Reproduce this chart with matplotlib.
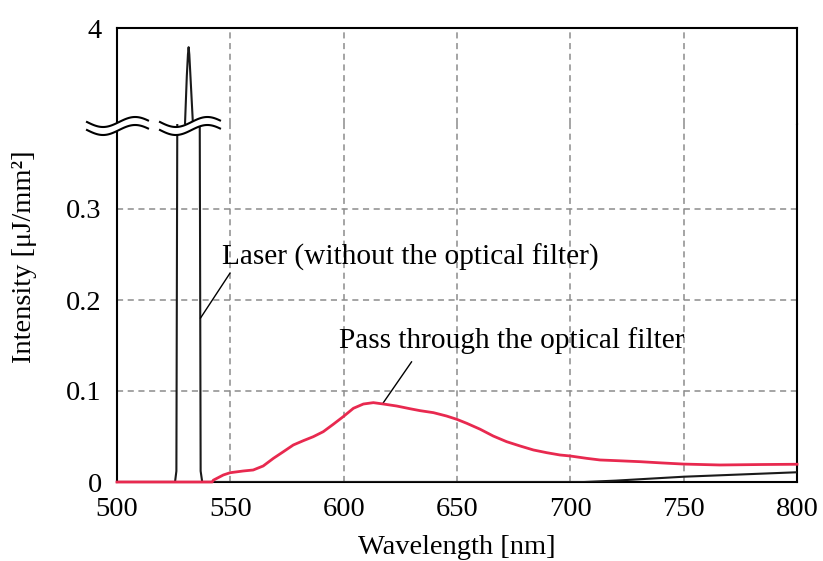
import numpy as np
import matplotlib
matplotlib.use("Agg")
import matplotlib.pyplot as plt

plt.rcParams['font.family'] = ['Liberation Serif', 'DejaVu Serif']
FS = 20.5
FS_NOTE = 21.2
plt.rcParams['font.size'] = FS

# Spectrum of the laser measured without the optical filter
laser_wl = [500, 525.6, 526.2, 526.6, 528.5, 530.0, 530.8, 531.3, 531.6,
            531.9, 532.4, 533.5, 534.8, 536.5, 536.9, 537.6, 706, 720, 750, 800]
laser_int = [0, 0, 0.012, 0.40, 1.2, 2.0, 3.0, 3.45, 3.6,
             3.45, 3.0, 2.0, 1.2, 0.40, 0.012, 0, 0, 0.0015, 0.0058, 0.0107]

# Spectrum passed through the optical filter
filt_wl = [500, 542.0, 542.5, 546.9, 549.9, 555.7, 560.1, 564.5, 569.0, 573.4,
           577.8, 582.2, 586.6, 591.0, 595.4, 599.8, 604.3, 608.7, 613.1,
           617.5, 623.4, 629.3, 633.7, 639.6, 645.4, 649.9, 654.3, 660.2,
           666.0, 671.9, 677.8, 683.7, 689.6, 695.4, 699.9, 707.2, 713.1,
           720, 731, 740, 750, 766, 784, 800]
filt_int = [0, 0, 0.002, 0.0077, 0.0102, 0.0121, 0.0132, 0.0176, 0.026,
            0.0333, 0.0407, 0.0454, 0.0498, 0.0553, 0.0634, 0.0718, 0.081,
            0.0857, 0.0872, 0.0857, 0.0835, 0.0805, 0.0784, 0.0762, 0.0725,
            0.0689, 0.0645, 0.058, 0.0505, 0.0443, 0.0396, 0.0352, 0.0322,
            0.0297, 0.0286, 0.026, 0.0242, 0.0235, 0.0223, 0.021, 0.0197,
            0.0187, 0.0192, 0.0195]

x_ticks = [500, 550, 600, 650, 700, 750, 800]
y_ticks_low = [0, 0.1, 0.2, 0.3]
y_tick_labels_low = ['0', '0.1', '0.2', '0.3']
y_ticks_high = [4]

W, H = 823, 561
fig = plt.figure(figsize=(W / 100, H / 100), dpi=100)

left_px, right_px = 117, 797
bottom_px, break_px, top_px = 482, 124, 28

def fx(px):
    return px / W

def fy(py):
    return 1 - py / H

ax_lo = fig.add_axes([fx(left_px), fy(bottom_px), fx(right_px - left_px),
                      (bottom_px - break_px) / H])
ax_hi = fig.add_axes([fx(left_px), fy(break_px), fx(right_px - left_px),
                      (break_px - top_px) / H], sharex=ax_lo)

red = '#E8294F'
grid_kw = dict(color='#8c8c8c', lw=1.1, ls=(0, (4, 3)))

for ax in (ax_lo, ax_hi):
    ax.plot(laser_wl, laser_int, color='#1a1a1a', lw=1.5, zorder=3)
    for s in ax.spines.values():
        s.set_linewidth(1.5)
    ax.tick_params(length=0, labelsize=FS)
    for xv in x_ticks[1:-1]:
        ax.axvline(xv, zorder=1, **grid_kw)

ax_lo.plot(filt_wl, filt_int, color=red, lw=2.0, zorder=4, clip_on=False)

ax_lo.set_xlim(500, 800)
ax_lo.set_ylim(0, (bottom_px - break_px) / 910)
ax_hi.set_ylim(2.0, 4.0)

ax_lo.spines['top'].set_visible(False)
ax_hi.spines['bottom'].set_visible(False)

ax_lo.set_xticks(x_ticks)
ax_lo.set_yticks(y_ticks_low)
ax_lo.set_yticklabels(y_tick_labels_low)
for yv in y_ticks_low[1:]:
    ax_lo.axhline(yv, zorder=1, **grid_kw)
ax_hi.set_yticks(y_ticks_high)
ax_hi.set_yticklabels(['4'])
ax_hi.tick_params(labelbottom=False)
ax_lo.tick_params(axis='y', pad=11)
ax_hi.tick_params(axis='y', pad=11)
ax_lo.tick_params(axis='x', pad=11)

ax_lo.set_xlabel('Wavelength [nm]', fontsize=FS, labelpad=9)
fig.text(fx(25), fy(257), 'Intensity [μJ/mm²]', rotation=90,
         ha='center', va='center', fontsize=FS)

# Labels with leader lines
ax_lo.text(546.3, 0.247, 'Laser (without the optical filter)',
           ha='left', va='center', fontsize=FS_NOTE)
ax_lo.annotate('', xy=(536.8, 0.180), xytext=(549.9, 0.2297),
               arrowprops=dict(arrowstyle='-', lw=1.0, color='black',
                               shrinkA=0, shrinkB=0))
ax_lo.text(597.9, 0.156, 'Pass through the optical filter',
           ha='left', va='center', fontsize=FS_NOTE)
ax_lo.annotate('', xy=(617.4, 0.0868), xytext=(630.0, 0.1322),
               arrowprops=dict(arrowstyle='-', lw=1.0, color='black',
                               shrinkA=0, shrinkB=0))

# Wavy axis-break marks drawn in pixel space
def break_mark(x0, x1, yc, gap=8, amp=5):
    t = np.linspace(0, 0.95, 80)
    xs = x0 + (x1 - x0) * t / 0.95
    wave = -amp * np.sin(2 * np.pi * t)
    y_up = yc - gap / 2 - wave
    y_dn = yc + gap / 2 - wave
    X = fx(xs)
    fig.patches.append(plt.Polygon(
        np.column_stack([np.concatenate([X, X[::-1]]),
                         np.concatenate([fy(y_up), fy(y_dn)[::-1]])]),
        closed=True, facecolor='white', edgecolor='none',
        transform=fig.transFigure, zorder=10))
    for yy in (y_up, y_dn):
        fig.lines.append(plt.Line2D(X, fy(yy), color='black', lw=1.5,
                                    transform=fig.transFigure, zorder=11))

break_mark(87, 148, 126)
break_mark(160, 220, 126)

fig.savefig('out.png', dpi=100)
